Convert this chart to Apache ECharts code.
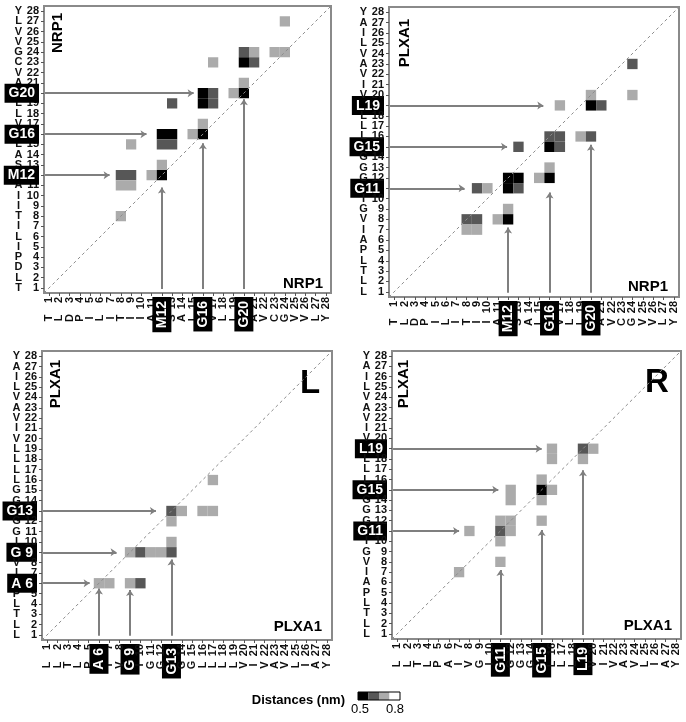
<!DOCTYPE html>
<html>
<head>
<meta charset="utf-8">
<script src="https://cdn.jsdelivr.net/npm/echarts@6/dist/echarts.min.js"></script>
<style>
  html, body { margin: 0; padding: 0; background: #fff; }
  #chart { width: 686px; height: 722px; }
</style>
</head>
<body>
<div id="chart"></div>
<script>
// TM helix sequences, residue 1..28
const nrp1Seq = ['T','L','D','P','I','L','I','T','I','I','A','M','S','A','L','G','V','L','L','G','A','V','C','G','V','V','L','Y'];
const plxa1Seq = ['L','L','T','L','P','A','I','V','G','I','G','G','G','G','G','L','L','L','L','V','I','V','A','V','L','I','A','Y'];
const residueNumbers = [1,2,3,4,5,6,7,8,9,10,11,12,13,14,15,16,17,18,19,20,21,22,23,24,25,26,27,28];

// distance classes (nm) and their grey levels
const distanceLevels = [0.5, 0.6, 0.7, 0.8];
const levelColors = ['#000000', '#575757', '#ababab', '#ffffff'];

// contact cells [x residue, y residue, distance]
const cellsNrpNrp = [
  [24,27,0.7],
  [20,24,0.6],[21,24,0.7],[23,24,0.7],[24,24,0.7],
  [20,23,0.5],[21,23,0.6],[17,23,0.7],
  [20,21,0.7],
  [19,20,0.7],[20,20,0.5],
  [16,20,0.5],[17,20,0.6],[16,19,0.5],[17,19,0.6],
  [13,19,0.6],
  [16,17,0.7],
  [15,16,0.7],[16,16,0.5],
  [12,16,0.5],[13,16,0.5],[12,15,0.6],[13,15,0.6],
  [9,15,0.7],
  [12,13,0.7],
  [11,12,0.7],[12,12,0.5],
  [8,12,0.6],[9,12,0.6],[8,11,0.7],[9,11,0.7],
  [8,8,0.7]
];
const cellsNrpPlx = [
  [24,23,0.6],
  [24,20,0.7],[20,20,0.7],
  [20,19,0.5],[21,19,0.6],[17,19,0.7],
  [16,16,0.6],[17,16,0.6],[16,15,0.5],[17,15,0.6],
  [19,16,0.7],[20,16,0.6],
  [13,15,0.6],
  [16,13,0.7],
  [15,12,0.7],[16,12,0.5],
  [12,12,0.5],[13,12,0.5],[12,11,0.5],[13,11,0.6],
  [9,11,0.6],[10,11,0.7],
  [12,9,0.7],
  [11,8,0.7],[12,8,0.5],
  [8,8,0.6],[9,8,0.6],[8,7,0.7],[9,7,0.7]
];
const cellsPlxL = [
  [17,16,0.7],
  [13,13,0.6],[14,13,0.7],[16,13,0.7],[17,13,0.7],
  [13,12,0.7],
  [13,10,0.7],
  [9,9,0.7],[10,9,0.6],[11,9,0.7],[12,9,0.7],[13,9,0.6],
  [6,6,0.7],[7,6,0.7],[9,6,0.7],[10,6,0.6]
];
const cellsPlxR = [
  [16,19,0.7],[16,18,0.7],
  [19,19,0.6],[20,19,0.7],[19,18,0.7],
  [15,16,0.7],[15,15,0.5],[16,15,0.7],[15,14,0.7],
  [12,15,0.7],[12,14,0.7],
  [15,12,0.7],
  [11,12,0.7],[12,12,0.7],[11,11,0.6],[12,11,0.7],
  [8,11,0.7],
  [11,10,0.7],
  [11,8,0.7],
  [7,7,0.7]
];

// highlighted residues
const marksNrp = [12, 16, 20];
const marksPlxDimer = [11, 15, 19];
const marksPlxL = [6, 9, 13];

// arrows: [residue, tip position along the other axis]
const hArrowsNrpNrp = [[20,15.1],[16,10.5],[12,6.9]];
const vArrowsNrpNrp = [[12,10.8],[16,15.1],[20,19.4]];
const hArrowsNrpPlx = [[19,15.4],[15,11.9],[11,7.8]];
const vArrowsNrpPlx = [[12,7.2],[16,10.6],[20,15.2]];
const hArrowsPlxL = [[13,11.5],[9,7.7],[6,5.1]];
const vArrowsPlxL = [[6,5.5],[9,5.35],[13,8.3]];
const hArrowsPlxR = [[19,15.0],[15,10.8],[11,7.0]];
const vArrowsPlxR = [[11,7.2],[15,11.1],[19,16.9]];

const diagonal = [[0.5,0.5],[28.5,28.5]];

const FONT = 'Liberation Sans, Arial, sans-serif';

const panels = [
  { grid: { left: 44, top: 6, width: 287, height: 287 },
    xSeq: nrp1Seq, ySeq: nrp1Seq, xMarks: marksNrp, yMarks: marksNrp,
    cells: cellsNrpNrp, hArrows: hArrowsNrpNrp, vArrows: vArrowsNrpNrp },
  { grid: { left: 389, top: 7, width: 290, height: 290 },
    xSeq: nrp1Seq, ySeq: plxa1Seq, xMarks: marksNrp, yMarks: marksPlxDimer,
    cells: cellsNrpPlx, hArrows: hArrowsNrpPlx, vArrows: vArrowsNrpPlx },
  { grid: { left: 42, top: 351, width: 290, height: 289 },
    xSeq: plxa1Seq, ySeq: plxa1Seq, xMarks: marksPlxL, yMarks: marksPlxL,
    cells: cellsPlxL, hArrows: hArrowsPlxL, vArrows: vArrowsPlxL },
  { grid: { left: 392, top: 351, width: 289, height: 288 },
    xSeq: plxa1Seq, ySeq: plxa1Seq, xMarks: marksPlxDimer, yMarks: marksPlxDimer,
    cells: cellsPlxR, hArrows: hArrowsPlxR, vArrows: vArrowsPlxR }
];

// labels are split over two stacked axes (odd / even) so none get hidden as overlapping
const oddResidues = residueNumbers.filter(function (n) { return n % 2 === 1; });
const evenResidues = residueNumbers.filter(function (n) { return n % 2 === 0; });

function tag(seq, i) {
  return seq[i - 1] + (i < 10 ? ' ' : '') + i;
}

function labelFormatter(seq, marks) {
  return function (v) {
    const i = Math.round(v);
    if (marks.indexOf(i) >= 0) return '{hl|' + tag(seq, i) + '}';
    return '{l|' + seq[i - 1] + '}{n|' + i + '}';
  };
}

const hlStyle = {
  backgroundColor: '#000', color: '#fff', fontWeight: 'bold', fontSize: 14,
  fontFamily: FONT, padding: [3, 4, 2, 4], lineHeight: 15
};

function makeAxis(dim, idx, seq, marks, values, main) {
  const isX = dim === 'x';
  return {
    type: 'value', gridIndex: idx, min: 0.5, max: 28.5,
    position: isX ? 'bottom' : 'left', offset: 0,
    splitLine: { show: false },
    axisLine: { show: main, onZero: false, lineStyle: { color: '#8a8a8a', width: 2 } },
    axisTick: { show: main, length: 3, customValues: residueNumbers,
      lineStyle: { color: '#555', width: 1 } },
    axisLabel: {
      customValues: values,
      showMinLabel: true, showMaxLabel: true, hideOverlap: false,
      rotate: isX ? 90 : 0,
      margin: isX ? 4 : 5,
      color: '#000', fontWeight: 'bold', fontSize: 11, fontFamily: FONT,
      formatter: labelFormatter(seq, marks),
      rich: {
        l: { width: isX ? 10 : 11, align: 'center', fontWeight: 'bold', fontSize: 11, fontFamily: FONT, color: '#111' },
        n: { width: isX ? 16 : 15, align: 'right', fontWeight: 'bold', fontSize: 11, fontFamily: FONT, color: '#111' },
        hl: hlStyle
      }
    }
  };
}

const grids = [], xAxes = [], yAxes = [], series = [];

panels.forEach(function (p, k) {
  grids.push(Object.assign({ show: true, borderColor: '#8a8a8a', borderWidth: 2,
    backgroundColor: '#fff', outerBoundsMode: 'none' }, p.grid));
  xAxes.push(makeAxis('x', k, p.xSeq, p.xMarks, oddResidues, true));
  xAxes.push(makeAxis('x', k, p.xSeq, p.xMarks, evenResidues, false));
  yAxes.push(makeAxis('y', k, p.ySeq, p.yMarks, oddResidues, true));
  yAxes.push(makeAxis('y', k, p.ySeq, p.yMarks, evenResidues, false));
});

panels.forEach(function (p, k) {
  series.push({
    type: 'custom', xAxisIndex: 2 * k, yAxisIndex: 2 * k, z: 2,
    encode: { x: 0, y: 1 },
    data: p.cells,
    renderItem: function (params, api) {
      const c = api.coord([api.value(0), api.value(1)]);
      const s = api.size([1, 1]);
      return {
        type: 'rect',
        shape: { x: c[0] - s[0] / 2, y: c[1] - s[1] / 2, width: s[0], height: s[1] },
        style: { fill: api.visual('color') }
      };
    }
  });
});

panels.forEach(function (p, k) {
  series.push({
    type: 'line', xAxisIndex: 2 * k, yAxisIndex: 2 * k, z: 3, silent: true,
    symbol: 'none', data: diagonal,
    lineStyle: { color: '#8c8c8c', width: 1, type: [3, 3] }
  });
  const arrows = p.hArrows.map(function (a) { return { coords: [[0.6, a[0]], [a[1], a[0]]] }; })
    .concat(p.vArrows.map(function (a) { return { coords: [[a[0], 0.9], [a[0], a[1]]] }; }));
  series.push({
    type: 'lines', coordinateSystem: 'cartesian2d', xAxisIndex: 2 * k, yAxisIndex: 2 * k, z: 4,
    silent: true, symbol: ['none', 'arrow'], symbolSize: 6,
    lineStyle: { color: '#7f7f7f', width: 2, opacity: 1, curveness: 0 },
    data: arrows
  });
});

const titleFont = 'bold 15px ' + FONT;
const graphic = [
  { type: 'text', x: 58, y: 33, rotation: Math.PI / 2, style: { text: 'NRP1', font: titleFont, fill: '#000', textAlign: 'center', textVerticalAlign: 'middle' } },
  { type: 'text', x: 323, y: 284, style: { text: 'NRP1', font: titleFont, fill: '#000', textAlign: 'right', textVerticalAlign: 'middle' } },
  { type: 'text', x: 405, y: 43, rotation: Math.PI / 2, style: { text: 'PLXA1', font: titleFont, fill: '#000', textAlign: 'center', textVerticalAlign: 'middle' } },
  { type: 'text', x: 668, y: 287, style: { text: 'NRP1', font: titleFont, fill: '#000', textAlign: 'right', textVerticalAlign: 'middle' } },
  { type: 'text', x: 56, y: 384, rotation: Math.PI / 2, style: { text: 'PLXA1', font: titleFont, fill: '#000', textAlign: 'center', textVerticalAlign: 'middle' } },
  { type: 'text', x: 322, y: 627, style: { text: 'PLXA1', font: titleFont, fill: '#000', textAlign: 'right', textVerticalAlign: 'middle' } },
  { type: 'text', x: 404, y: 384, rotation: Math.PI / 2, style: { text: 'PLXA1', font: titleFont, fill: '#000', textAlign: 'center', textVerticalAlign: 'middle' } },
  { type: 'text', x: 672, y: 626, style: { text: 'PLXA1', font: titleFont, fill: '#000', textAlign: 'right', textVerticalAlign: 'middle' } },
  { type: 'text', x: 300, y: 384, style: { text: 'L', font: 'bold 33px ' + FONT, fill: '#000', textAlign: 'left', textVerticalAlign: 'middle' } },
  { type: 'text', x: 645, y: 383, style: { text: 'R', font: 'bold 33px ' + FONT, fill: '#000', textAlign: 'left', textVerticalAlign: 'middle' } },
  { type: 'text', x: 345, y: 700, style: { text: 'Distances (nm)', font: 'bold 13px ' + FONT, fill: '#000', textAlign: 'right', textVerticalAlign: 'middle' } },
  { type: 'text', x: 360, y: 709, style: { text: String(distanceLevels[0]), font: '13px ' + FONT, fill: '#000', textAlign: 'center', textVerticalAlign: 'middle' } },
  { type: 'text', x: 395, y: 709, style: { text: String(distanceLevels[distanceLevels.length - 1]), font: '13px ' + FONT, fill: '#000', textAlign: 'center', textVerticalAlign: 'middle' } }
];
levelColors.forEach(function (c, i) {
  graphic.push({ type: 'rect', x: 358 + i * 10.5, y: 692, shape: { width: 10.5, height: 8 }, style: { fill: c } });
});
graphic.push({ type: 'rect', x: 358, y: 692, shape: { width: 42, height: 8 }, style: { fill: 'none', stroke: '#000', lineWidth: 1 } });

const chart = echarts.init(document.getElementById('chart'));
chart.setOption({
  animation: false,
  backgroundColor: '#fff',
  grid: grids,
  xAxis: xAxes,
  yAxis: yAxes,
  visualMap: {
    type: 'piecewise', show: false, dimension: 2, seriesIndex: [0, 1, 2, 3],
    pieces: distanceLevels.map(function (d, i) { return { value: d, color: levelColors[i] }; })
  },
  graphic: graphic,
  series: series
});
</script>
</body>
</html>
